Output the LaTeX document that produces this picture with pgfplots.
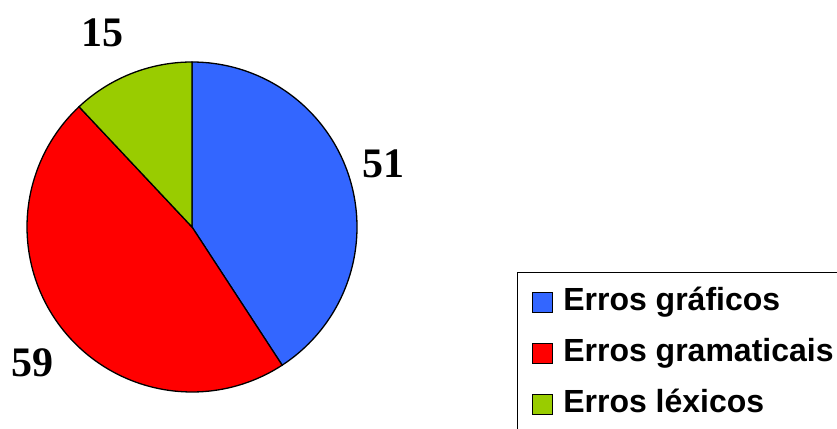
\documentclass[border=0pt]{standalone}
\usepackage{fontspec}
\setmainfont{Liberation Serif}
\newfontfamily\arialfont{Liberation Sans}
\usepackage{pgfplots}
\usepackage{pgfplotstable}
\pgfplotsset{compat=1.18}
\definecolor{cblue}{HTML}{3366FF}
\definecolor{cred}{HTML}{FF0000}
\definecolor{cgreen}{HTML}{99CC00}
\pgfplotstableread{
label value
graficos 51
gramaticais 59
lexicos 15
}\piedata
\begin{document}
\begin{tikzpicture}[x=1pt,y=1pt]
\useasboundingbox (0,0) rectangle (837,428);
\clip (0,0) rectangle (837,428);
\pgfplotstablegetelem{0}{value}\of\piedata \let\va\pgfplotsretval
\pgfplotstablegetelem{1}{value}\of\piedata \let\vb\pgfplotsretval
\pgfplotstablegetelem{2}{value}\of\piedata \let\vc\pgfplotsretval
\pgfmathsetmacro\total{\va+\vb+\vc}
\pgfmathsetmacro\aA{90-360*(\va/\total)}
\pgfmathsetmacro\aB{\aA-360*(\vb/\total)}
\pgfmathsetmacro\aC{\aB-360*(\vc/\total)}
\begin{axis}[
  at={(0,0)}, anchor=origin,
  width=837pt, height=428pt, scale only axis,
  xmin=0, xmax=837, ymin=0, ymax=428,
  hide axis, clip=false,
  legend image code/.code={\draw[#1,draw=black,line width=1.2pt] (0pt,-10pt) rectangle (20pt,10pt);
     \path[draw=none,fill=none] (0pt,0pt) -- (27pt,0pt);},
  legend style={at={(axis description cs:0.6177,0.3645)}, anchor=north west,
    draw=black, line width=1.3pt, inner xsep=14pt, inner ysep=6pt,
    font=\arialfont\bfseries\fontsize{32}{38}\selectfont,
    nodes={inner xsep=4pt, inner ysep=8pt, text height=24pt, text depth=7pt},
    row sep=4pt,
    cells={anchor=west}},
]
\addplot[fill=cblue, draw=black, line width=1.3pt, domain=\aA:90, samples=100]
  ({192+165*cos(x)},{201+165*sin(x)}) -- (axis cs:192,201) -- cycle;
\addlegendentry{Erros gráficos}
\addplot[fill=cred, draw=black, line width=1.3pt, domain=\aB:\aA, samples=100]
  ({192+165*cos(x)},{201+165*sin(x)}) -- (axis cs:192,201) -- cycle;
\addlegendentry{Erros gramaticais}
\addplot[fill=cgreen, draw=black, line width=1.3pt, domain=\aC:\aB, samples=50]
  ({192+165*cos(x)},{201+165*sin(x)}) -- (axis cs:192,201) -- cycle;
\addlegendentry{Erros léxicos}
\node[font=\bfseries\fontsize{42}{42}\selectfont] at (axis cs:102.5,395) {\vc};
\node[font=\bfseries\fontsize{42}{42}\selectfont] at (axis cs:383,264) {\va};
\node[font=\bfseries\fontsize{42}{42}\selectfont] at (axis cs:32,65.5) {\vb};
\end{axis}
\end{tikzpicture}
\end{document}
